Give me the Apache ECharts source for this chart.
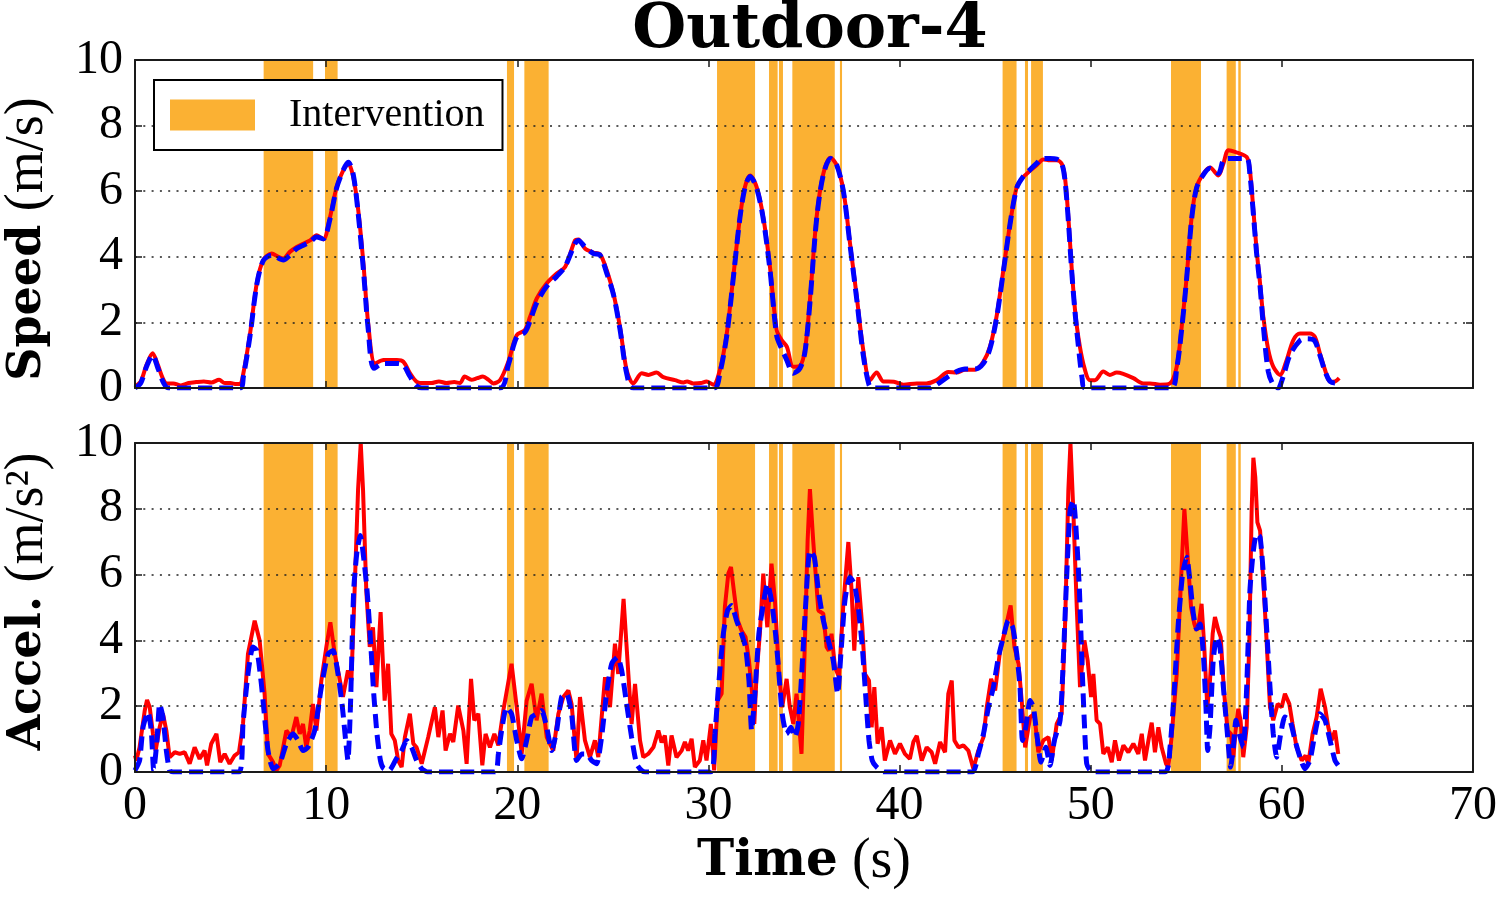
<!DOCTYPE html>
<html>
<head>
<meta charset="utf-8">
<script src="https://cdn.jsdelivr.net/npm/echarts@6/dist/echarts.min.js"></script>
<style>
  html, body { margin: 0; padding: 0; background: #fff; }
  #chart { width: 1500px; height: 900px; }
</style>
</head>
<body>
<div id="chart"></div>
<script>
// ---------------- DATA ----------------
const chartTitle = 'Outdoor-4';
const xTicks = [0, 10, 20, 30, 40, 50, 60, 70];
const yTicks = [0, 2, 4, 6, 8, 10];

// intervention intervals [start s, end s]
const interventions = [
  [6.73, 9.32], [9.94, 10.60], [19.46, 19.83], [20.37, 21.64],
  [30.45, 32.44], [33.17, 33.62], [33.69, 33.90], [34.39, 36.61], [36.88, 36.99],
  [45.39, 46.12], [46.56, 46.72], [46.88, 47.50],
  [54.20, 55.77], [57.11, 57.59], [57.72, 57.85]
];

// speed (m/s), red solid: [time s, value]
const speedRed = [
  [0,0.05],[0.3,0.2],[0.6,0.7],[0.92,1.06],[1.2,0.7],[1.45,0.3],[1.66,0.14],[2.0,0.14],[2.4,0.08],[2.8,0.15],[3.2,0.18],[3.6,0.2],[4.0,0.17],[4.4,0.25],[4.7,0.15],[5.0,0.15],[5.3,0.12],[5.5,0.12],
  [5.67,0.45],[6.02,1.66],[6.37,3.19],[6.71,3.9],[7.15,4.1],[7.5,4.0],[7.76,3.95],[8.1,4.15],[8.46,4.3],[8.8,4.4],[9.16,4.5],[9.5,4.66],[9.85,4.53],[10.2,5.2],[10.55,6.13],[10.9,6.64],[11.16,6.84],[11.42,6.43],[11.68,5.42],[11.95,3.8],[12.2,1.97],[12.56,0.75],[13.0,0.85],[13.7,0.85],[14.04,0.8],[14.39,0.45],[14.74,0.19],
  [15.1,0.15],[15.5,0.15],[15.9,0.2],[16.3,0.15],[16.7,0.18],[17.0,0.15],[17.25,0.35],[17.6,0.25],[17.9,0.3],[18.2,0.35],[18.5,0.25],[18.75,0.14],[19.1,0.24],
  [19.53,0.8],[19.97,1.61],[20.4,1.77],[20.67,2.17],[21.02,2.73],[21.54,3.19],[22.06,3.49],[22.5,3.69],[23.02,4.5],[23.2,4.53],[23.54,4.25],[23.98,4.13],[24.33,4.08],[24.68,3.59],[25.03,2.88],[25.37,1.87],[25.72,0.55],[26.07,0.14],
  [26.51,0.45],[26.86,0.4],[27.29,0.47],[27.64,0.33],[28.25,0.24],[28.7,0.17],[28.88,0.2],[29.2,0.14],[29.6,0.15],[29.9,0.2],[30.26,0.1],
  [30.6,0.55],[30.96,1.66],[31.3,3.39],[31.65,5.21],[31.91,6.13],[32.18,6.48],[32.52,6.13],[32.87,5.2],[33.22,3.69],[33.57,1.77],[33.83,1.46],[34.1,1.26],[34.44,0.65],[34.79,0.68],[35.05,1.16],[35.31,2.68],[35.66,5.21],[36.01,6.53],[36.39,7.02],[36.71,6.79],[37.06,6.03],[37.41,4.4],[37.76,2.78],[38.1,1.16],[38.45,0.24],
  [38.8,0.47],[39.15,0.2],[39.7,0.19],[40.2,0.1],[40.9,0.14],[41.4,0.14],[41.94,0.24],[42.55,0.49],[42.98,0.47],[43.42,0.56],[43.94,0.56],[44.38,0.8],
  [44.73,1.26],[45.08,2.2],[45.43,3.6],[45.78,5.0],[46.13,6.13],[46.47,6.43],[46.82,6.62],[47.17,6.79],[47.52,6.97],[47.87,6.94],[48.22,6.94],[48.48,6.84],[48.65,6.43],[48.83,5.21],[49.0,3.69],[49.18,2.37],[49.35,1.56],[49.61,0.75],[49.96,0.24],
  [50.22,0.24],[50.66,0.5],[51.0,0.4],[51.36,0.47],[51.7,0.43],[52.23,0.3],[52.75,0.14],[53.1,0.14],[53.63,0.1],[54.15,0.14],
  [54.5,0.65],[54.76,1.87],[55.02,3.39],[55.28,5.21],[55.54,6.13],[55.89,6.53],[56.24,6.72],[56.68,6.48],[56.94,6.84],[57.2,7.25],[57.55,7.2],[58.16,7.04],[58.33,6.64],[58.51,5.42],[58.68,4.2],[58.86,3.19],[59.03,2.17],[59.29,1.16],[59.55,0.65],[59.9,0.4],
  [60.25,0.85],[60.6,1.46],[60.95,1.66],[61.47,1.66],[61.73,1.56],[61.99,1.06],[62.26,0.55],[62.52,0.19],[62.78,0.2],[63.0,0.3]
];

// speed (m/s), blue dashed
const speedBlue = [
  [0,0],[0.3,0.15],[0.6,0.65],[0.92,1.0],[1.2,0.6],[1.5,0.15],[1.75,0],[5.5,0],
  [5.67,0.35],[6.02,1.6],[6.37,3.15],[6.71,3.88],[7.15,4.05],[7.76,3.9],[8.1,4.05],[8.46,4.25],[9.16,4.45],[9.5,4.6],[9.85,4.55],[10.2,5.15],[10.55,6.1],[10.9,6.65],[11.16,6.88],[11.42,6.5],[11.68,5.3],[11.95,3.6],[12.2,1.8],[12.5,0.6],[13.0,0.75],[13.7,0.75],[14.04,0.7],[14.39,0.35],[14.7,0.08],[15.0,0],[19.1,0],
  [19.53,0.7],[19.97,1.55],[20.4,1.7],[20.67,2.05],[21.02,2.6],[21.54,3.1],[22.06,3.4],[22.5,3.7],[23.02,4.4],[23.2,4.5],[23.54,4.3],[23.98,4.1],[24.33,4.05],[24.68,3.5],[25.03,2.85],[25.37,1.8],[25.72,0.45],[26.07,0],[30.3,0],
  [30.6,0.45],[30.96,1.6],[31.3,3.35],[31.65,5.2],[31.91,6.1],[32.18,6.45],[32.52,6.1],[32.87,5.15],[33.22,3.6],[33.57,1.6],[33.83,1.2],[34.1,0.85],[34.44,0.45],[34.79,0.6],[35.05,1.1],[35.31,2.6],[35.66,5.15],[36.01,6.5],[36.39,7.0],[36.71,6.8],[37.06,6.0],[37.41,4.35],[37.76,2.7],[38.1,1.0],[38.4,0.1],[38.6,0],[41.6,0],
  [41.94,0.1],[42.55,0.35],[42.98,0.5],[43.42,0.58],[43.94,0.58],[44.38,0.75],[44.73,1.2],[45.08,2.15],[45.43,3.55],[45.78,5.0],[46.13,6.1],[46.47,6.45],[46.82,6.65],[47.17,6.85],[47.52,7.0],[47.87,7.0],[48.22,6.98],[48.48,6.85],[48.65,6.35],[48.83,5.1],[49.0,3.6],[49.18,2.3],[49.35,1.3],[49.55,0.3],[49.7,0],[54.2,0],
  [54.5,0.6],[54.76,1.8],[55.02,3.35],[55.28,5.15],[55.54,6.1],[55.89,6.5],[56.24,6.7],[56.68,6.55],[56.94,6.95],[57.2,7.0],[57.55,7.0],[58.16,7.0],[58.33,6.5],[58.51,5.3],[58.68,4.1],[58.86,3.1],[59.03,1.9],[59.29,0.5],[59.55,0.1],[59.8,0],
  [60.07,0.35],[60.42,1.0],[60.95,1.45],[61.3,1.5],[61.7,1.45],[61.99,1.0],[62.26,0.5],[62.52,0.2],[62.78,0.15],[63.0,0.2]
];

// acceleration (m/s^2), red solid
const accelRed = [
  [0.0,0.5],[0.07,0.35],[0.24,0.75],[0.51,1.87],[0.63,2.19],[0.77,1.97],[0.94,1.16],[1.08,0.65],[1.29,1.36],[1.46,1.77],[1.64,1.26],[1.81,0.45],[2.08,0.6],[2.34,0.55],[2.6,0.6],[2.86,0.25],[3.12,0.75],[3.38,0.4],[3.64,0.65],[3.77,0.2],[3.99,0.86],[4.26,1.16],[4.46,0.3],[4.69,0.55],[4.95,0.25],[5.21,0.5],[5.44,0.6],
  [5.65,1.46],[5.91,3.59],[6.26,4.6],[6.52,4.0],[6.78,2.38],[6.96,0.55],[7.22,0.3],[7.4,0.05],[7.57,0.2],[7.92,1.26],[8.18,1.06],[8.44,1.67],[8.62,1.16],[8.79,1.46],[8.96,0.75],[9.14,1.26],[9.31,2.07],[9.49,1.26],[9.75,2.78],[10.01,3.8],[10.22,4.55],[10.45,3.59],[10.62,3.09],[10.88,2.28],[11.14,3.09],[11.32,2.78],
  [11.49,5.52],[11.67,8.58],[11.81,10.0],[11.93,8.58],[12.1,5.52],[12.28,3.8],[12.45,4.4],[12.63,2.58],[12.85,4.86],[13.06,2.17],[13.24,3.29],[13.41,1.16],[13.59,0.96],[13.77,0.35],[13.95,0.15],[14.12,1.06],[14.38,1.77],[14.56,0.86],[14.73,0.75],[15.0,0.25],
  [15.34,1.06],[15.69,1.97],[15.87,1.06],[16.09,1.87],[16.25,0.65],[16.48,1.16],[16.65,0.91],[16.91,2.02],[17.18,1.26],[17.35,0.25],[17.58,2.83],[17.75,1.57],[17.96,1.77],[18.17,0.2],[18.34,1.16],[18.57,0.75],[18.8,1.16],[19.01,0.81],[19.27,1.87],[19.7,3.29],[19.97,1.97],[20.23,0.55],[20.49,2.17],[20.75,2.68],[21.01,1.57],[21.27,2.38],[21.54,1.06],[21.88,0.65],[22.15,1.77],[22.41,2.28],[22.67,2.48],[22.84,2.07],[23.1,0.35],[23.28,2.28],[23.54,0.96],[23.8,0.45],[24.06,0.96],[24.24,0.45],
  [24.59,2.88],[24.85,1.97],[25.11,3.9],[25.28,2.98],[25.56,5.26],[25.81,2.98],[25.98,1.46],[26.16,2.68],[26.42,0.96],[26.59,0.45],[26.85,0.55],[27.12,0.75],[27.38,1.26],[27.55,0.9],[27.72,1.11],[27.9,0.2],[28.07,1.11],[28.33,0.45],[28.6,0.65],[28.77,0.91],[28.94,0.65],[29.12,1.01],[29.29,0.15],[29.55,0.35],[29.73,0.96],[29.9,0.35],[30.13,1.46],[30.3,0.05],
  [30.48,2.17],[30.69,2.38],[30.86,5.01],[31.04,6.03],[31.18,6.23],[31.35,5.42],[31.53,4.61],[31.73,4.3],[31.94,4.1],[32.12,3.39],[32.29,2.38],[32.4,1.46],[32.52,2.98],[32.69,4.2],[32.87,6.03],[33.08,4.4],[33.3,6.33],[33.48,5.21],[33.69,2.98],[33.86,1.97],[34.09,2.83],[34.26,1.97],[34.44,1.46],[34.61,2.38],[34.87,0.55],
  [35.05,4.0],[35.19,7.04],[35.31,8.6],[35.48,7.04],[35.75,4.91],[36.01,4.81],[36.18,3.8],[36.3,3.69],[36.44,4.2],[36.62,3.19],[36.83,2.88],[37.05,5.01],[37.32,6.99],[37.49,5.52],[37.63,3.69],[37.84,5.92],[38.05,4.4],[38.19,2.98],[38.4,2.78],[38.54,1.36],[38.68,2.58],[38.85,0.86],[39.06,1.36],[39.23,0.35],[39.5,0.96],[39.76,0.55],[40.02,0.86],[40.28,0.55],[40.54,0.4],[40.72,0.91],[40.9,1.1],
  [41.16,0.35],[41.42,0.75],[41.68,0.6],[41.86,0.25],[42.12,0.91],[42.38,0.6],[42.55,2.38],[42.73,2.78],[42.87,0.96],[43.08,0.75],[43.34,0.81],[43.6,0.65],[43.86,0.1],[44.12,0.65],[44.39,1.06],[44.56,1.97],[44.79,2.83],[45.0,2.48],[45.26,3.69],[45.52,4.3],[45.81,5.06],[46.01,3.8],[46.22,3.29],[46.39,2.17],[46.57,0.75],[46.83,1.67],[47.05,1.77],[47.26,0.6],[47.52,0.96],[47.79,1.06],[47.96,0.35],[48.22,1.46],[48.48,1.77],
  [48.66,4.5],[48.83,8.56],[48.94,10.0],[49.09,7.95],[49.27,5.01],[49.44,2.58],[49.67,4.0],[49.84,3.39],[50.02,2.28],[50.14,2.98],[50.31,1.57],[50.49,1.46],[50.66,0.55],[50.89,0.75],[51.1,0.3],[51.27,0.96],[51.48,0.35],[51.71,0.81],[51.97,0.6],[52.23,0.86],[52.49,0.55],[52.67,1.16],[52.84,0.35],[53.02,0.96],[53.19,1.5],[53.36,0.6],[53.54,1.36],[53.71,0.75],[53.94,0.25],[54.06,0.15],[54.23,1.06],
  [54.5,2.98],[54.7,5.52],[54.9,8.0],[55.07,6.53],[55.25,5.01],[55.42,4.5],[55.54,4.3],[55.68,4.61],[55.8,5.11],[55.94,3.8],[56.1,1.97],[56.24,2.78],[56.38,4.2],[56.5,4.71],[56.68,4.3],[56.8,4.1],[56.97,2.48],[57.16,1.26],[57.34,1.16],[57.46,0.45],[57.6,1.36],[57.72,1.92],[57.84,1.57],[57.98,0.45],[58.16,1.36],
  [58.3,4.0],[58.42,7.98],[58.51,9.55],[58.61,8.96],[58.72,7.59],[58.86,7.34],[59.03,5.82],[59.2,4.0],[59.38,1.97],[59.55,1.57],[59.78,2.07],[59.99,1.97],[60.16,2.38],[60.39,2.07],[60.56,1.46],[60.77,0.75],[61.04,0.35],[61.24,0.5],[61.38,0.25],[61.61,1.16],[61.82,1.67],[62.03,2.53],[62.26,1.97],[62.43,1.36],[62.6,0.96],[62.78,1.26],[62.95,0.55]
];

// acceleration (m/s^2), blue dashed
const accelBlue = [
  [0,0.05],[0.24,0.35],[0.42,1.36],[0.68,1.82],[0.85,1.26],[0.98,0.05],[1.15,0.96],[1.29,2.07],[1.46,1.67],[1.64,0.65],[1.81,0.05],[2.0,0],[5.45,0],
  [5.65,1.46],[5.91,2.98],[6.17,3.8],[6.38,3.69],[6.61,2.68],[6.78,1.67],[6.96,0.65],[7.22,0.1],[7.57,0.25],[7.92,0.86],[8.27,1.16],[8.53,0.96],[8.79,0.65],[9.05,0.75],[9.4,1.26],[9.75,2.58],[10.1,3.59],[10.36,3.69],[10.62,2.98],[10.85,1.97],[11.02,0.96],[11.14,0.35],[11.27,1.97],[11.44,5.52],[11.62,6.73],[11.79,7.19],[11.96,6.53],[12.14,5.52],[12.31,4.1],[12.49,2.38],[12.66,1.16],[12.84,0.35],[13.01,0.1],[13.3,0.05],
  [13.67,0.4],[13.95,0.65],[14.21,0.96],[14.47,0.75],[14.73,0.35],[15.0,0.1],[15.3,0],[18.83,0],
  [19.01,0.55],[19.18,1.26],[19.44,1.97],[19.7,1.77],[19.97,0.96],[20.23,0.4],[20.49,0.96],[20.75,1.67],[21.01,1.77],[21.27,1.87],[21.54,1.36],[21.8,0.65],[22.06,1.26],[22.32,2.28],[22.58,2.38],[22.84,1.77],[23.1,0.35],[23.37,0.55],[23.63,0.55],[23.89,0.35],[24.15,0.25],[24.41,1.06],[24.67,2.38],[24.94,3.29],[25.25,3.49],[25.46,3.09],[25.72,2.07],[25.98,1.06],[26.24,0.25],[26.5,0.05],[26.7,0],[30.1,0],
  [30.34,1.16],[30.51,2.48],[30.78,4.2],[31.0,4.91],[31.21,5.06],[31.47,4.61],[31.73,4.2],[31.94,3.8],[32.12,2.78],[32.26,1.26],[32.43,2.38],[32.64,4.2],[32.87,5.11],[33.09,5.72],[33.3,5.21],[33.51,4.2],[33.69,2.98],[33.86,1.77],[34.09,1.16],[34.32,1.36],[34.52,1.06],[34.7,1.46],[34.87,2.88],[35.08,5.01],[35.31,6.73],[35.54,6.53],[35.75,5.52],[36.01,4.61],[36.27,4.0],[36.53,3.39],[36.76,2.38],[36.93,3.59],[37.14,5.21],[37.4,5.92],[37.63,5.72],[37.84,5.01],[38.05,3.8],[38.22,2.38],[38.4,0.96],[38.57,0.35],[38.8,0.15],[39.2,0],[43.8,0],
  [44.12,0.55],[44.39,1.16],[44.65,1.97],[44.91,2.58],[45.17,3.49],[45.43,4.1],[45.69,4.61],[45.92,4.4],[46.13,3.59],[46.3,2.58],[46.43,0.96],[46.6,1.36],[46.83,2.17],[47.0,1.97],[47.18,1.16],[47.4,0.3],[47.65,0.75],[47.87,0.2],[48.1,0.96],[48.4,1.57],[48.57,3.49],[48.75,6.03],[48.92,7.95],[49.09,8.26],[49.27,7.04],[49.41,5.52],[49.53,3.49],[49.67,1.46],[49.79,0.25],[49.97,0.05],[50.2,0],[53.9,0],
  [54.15,0.75],[54.36,2.38],[54.58,4.5],[54.81,6.03],[55.02,6.53],[55.19,5.82],[55.37,4.81],[55.54,4.35],[55.72,4.5],[55.89,3.59],[56.03,1.97],[56.12,0.65],[56.24,1.36],[56.41,3.39],[56.59,4.1],[56.76,3.8],[56.94,2.58],[57.15,1.16],[57.32,0.15],[57.46,0.75],[57.6,1.57],[57.77,1.16],[57.98,0.75],
  [58.16,2.58],[58.33,5.52],[58.51,6.73],[58.68,7.24],[58.86,7.14],[59.03,6.03],[59.2,4.4],[59.38,2.58],[59.55,1.16],[59.73,0.45],[59.94,1.16],[60.16,1.67],[60.42,1.57],[60.69,0.96],[60.95,0.45],[61.2,0.1],[61.47,0.35],[61.73,1.16],[61.99,1.77],[62.26,1.57],[62.52,0.96],[62.78,0.35],[62.95,0.2]
];

// ---------------- STYLE ----------------
const ORANGE = '#FBB133';
const RED = '#FF0000';
const BLUE = '#0000FF';
const FRAME = '#1a1a1a';
const SERIF = 'Liberation Serif';
const BOLDSERIF = 'DejaVu Serif';

const chart = echarts.init(document.getElementById('chart'), null, { renderer: 'canvas' });

const xMin = xTicks[0], xMax = xTicks[xTicks.length - 1];
const xInt = xTicks[1] - xTicks[0];
const yMin = yTicks[0], yMax = yTicks[yTicks.length - 1];
const yInt = yTicks[1] - yTicks[0];

function xAxisDef(gridIndex, position, showLabels, name) {
  return {
    type: 'value', gridIndex, position, min: xMin, max: xMax, interval: xInt, z: 5,
    axisLine: { show: true, onZero: false, lineStyle: { color: FRAME, width: 2 } },
    axisTick: { show: true, inside: true, length: 7, lineStyle: { color: FRAME, width: 1.5 } },
    axisLabel: { show: showLabels, margin: 10, fontFamily: SERIF, fontSize: 48, color: '#000' },
    splitLine: { show: false },
    name: name || '',
    nameLocation: 'middle',
    nameGap: 62,
    nameTextStyle: {
      rich: {
        b: { fontFamily: BOLDSERIF, fontWeight: 'bold', fontSize: 50, color: '#000' },
        r: { fontFamily: SERIF, fontSize: 56, color: '#000' }
      }
    }
  };
}
function yAxisDef(gridIndex, position, main, name, namePad) {
  return {
    type: 'value', gridIndex, position, min: yMin, max: yMax, interval: yInt, z: 5,
    axisLine: { show: true, onZero: false, lineStyle: { color: FRAME, width: 2 } },
    axisTick: { show: true, inside: true, length: 7, lineStyle: { color: FRAME, width: 1.5 } },
    axisLabel: { show: main, margin: 12, fontFamily: SERIF, fontSize: 48, color: '#000' },
    splitLine: { show: main, lineStyle: { color: '#222', width: 1.5, type: [2, 6.3] } },
    name: name || '',
    nameLocation: 'middle',
    nameGap: 80,
    nameTextStyle: {
      padding: namePad || 0,
      rich: {
        b: { fontFamily: BOLDSERIF, fontWeight: 'bold', fontSize: 46, color: '#000' },
        r: { fontFamily: SERIF, fontSize: 54, color: '#000' }
      }
    }
  };
}

const bandData = interventions.map(([s, e]) => [{ xAxis: s }, { xAxis: e }]);

function bandSeries(xi, yi) {
  return {
    name: 'Intervention', type: 'line', xAxisIndex: xi, yAxisIndex: yi,
    data: [], z: 1, color: ORANGE, silent: true,
    markArea: { silent: true, itemStyle: { color: ORANGE, opacity: 1 }, data: bandData }
  };
}
function lineSeries(name, data, xi, yi, color, dashed, smooth) {
  return {
    name, type: 'line', xAxisIndex: xi, yAxisIndex: yi, data,
    showSymbol: false, symbol: 'none', smooth: smooth, z: dashed ? 4 : 3,
    lineStyle: dashed ? { color, width: 5, type: [14, 7] } : { color, width: 4 },
    color
  };
}

const gridBase = { left: 135, right: 27, outerBoundsMode: 'none', containLabel: false };

const option = {
  backgroundColor: '#ffffff',
  animation: false,
  title: {
    text: chartTitle, left: 805, top: -5, textAlign: 'center',
    textStyle: { fontFamily: BOLDSERIF, fontWeight: 'bold', fontSize: 62, color: '#000' }
  },
  legend: {
    data: ['Intervention'],
    left: 154, top: 80, orient: 'horizontal',
    backgroundColor: '#fff', borderColor: '#000', borderWidth: 2, borderRadius: 0,
    padding: [15, 18, 15, 16],
    icon: 'rect', itemWidth: 85, itemHeight: 31,
    selectedMode: false, z: 10,
    textStyle: { fontFamily: SERIF, fontSize: 40, color: '#000', padding: [0, 0, 0, 29] }
  },
  grid: [
    Object.assign({ top: 60, height: 328 }, gridBase),
    Object.assign({ top: 443, height: 329 }, gridBase)
  ],
  xAxis: [
    xAxisDef(0, 'bottom', false),
    xAxisDef(0, 'top', false),
    xAxisDef(1, 'bottom', true, '{b|Time}{r| (s)}'),
    xAxisDef(1, 'top', false)
  ],
  yAxis: [
    yAxisDef(0, 'left', true, '{b|Speed}{r| (m/s)}', [0, 30, 0, 0]),
    yAxisDef(0, 'right', false),
    yAxisDef(1, 'left', true, '{b|Accel.}{r| (m/s²)}', [0, 0, 0, 12]),
    yAxisDef(1, 'right', false)
  ],
  series: [
    bandSeries(0, 0),
    bandSeries(2, 2),
    lineSeries('Speed measured', speedRed, 0, 0, RED, false, 0.3),
    lineSeries('Speed reference', speedBlue, 0, 0, BLUE, true, 0.3),
    lineSeries('Accel. measured', accelRed, 2, 2, RED, false, false),
    lineSeries('Accel. reference', accelBlue, 2, 2, BLUE, true, 0.2)
  ]
};
chart.setOption(option);
</script>
</body>
</html>
